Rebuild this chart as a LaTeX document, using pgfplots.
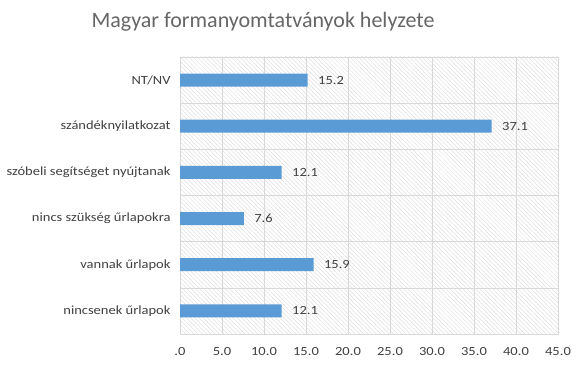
\documentclass[border=0pt]{standalone}
\usepackage{pgfplots}
\pgfplotsset{compat=1.18}
\usetikzlibrary{patterns.meta}
\usepackage{fontspec}
\setmainfont{Carlito}
\newfontfamily\lbl{Carlito}[FakeStretch=1.16]
\definecolor{barblue}{HTML}{5B9BD5}
\definecolor{txt}{HTML}{404040}
\definecolor{ttl}{HTML}{666666}
\definecolor{grd}{HTML}{D9D9D9}
\begin{document}
\begin{tikzpicture}
\useasboundingbox (0bp,0bp) rectangle (580bp,369bp);
\node[text=ttl, font=\fontsize{22bp}{26bp}\selectfont] at (263bp,347bp) {Magyar formanyomtatványok helyzete};
\begin{axis}[
  at={(180bp,35bp)}, anchor=south west,
  scale only axis, width=378bp, height=277bp,
  xbar, bar width=13bp,
  xmin=0, xmax=45,
  ymin=-0.5, ymax=5.5,
  xtick={0,5,...,45},
  xticklabels={.0,5.0,10.0,15.0,20.0,25.0,30.0,35.0,40.0,45.0},
  ytick={0,...,5},
  yticklabels={nincsenek űrlapok,vannak űrlapok,nincs szükség űrlapokra,szóbeli segítséget nyújtanak,szándéknyilatkozat,NT/NV},
  minor ytick={-0.5,0.5,...,5.5},
  xmajorgrids, yminorgrids,
  major grid style={grd, line width=0.6pt},
  minor grid style={grd, line width=0.6pt},
  axis line style={grd},
  major tick length=0pt, minor tick length=0pt,
  tick label style={text=txt, font=\lbl\fontsize{12.5bp}{14bp}\selectfont},
  xticklabel style={yshift=-10bp},
  yticklabel style={xshift=-6bp},
  axis background/.style={pattern={Lines[angle=-45,distance=3bp,line width=0.5bp]}, pattern color=gray!25},
  nodes near coords,
  nodes near coords style={text=txt, font=\lbl\fontsize{12.5bp}{14bp}\selectfont, anchor=west, xshift=7bp, /pgf/number format/.cd, fixed, fixed zerofill, precision=1, assume math mode=true},
]
\addplot[fill=barblue, draw=none] coordinates {(12.1,0) (15.9,1) (7.6,2) (12.1,3) (37.1,4) (15.2,5)};
\end{axis}
\end{tikzpicture}
\end{document}
